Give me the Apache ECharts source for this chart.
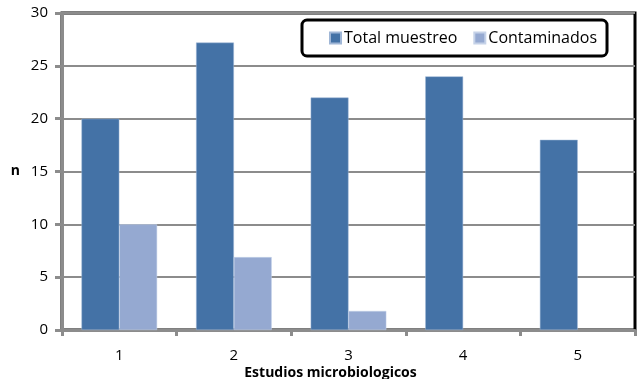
<!DOCTYPE html>
<html>
<head>
<meta charset="utf-8">
<script src="https://cdn.jsdelivr.net/npm/echarts@6/dist/echarts.min.js"></script>
<style>html,body{margin:0;padding:0;background:#fff}#c{width:639px;height:379px}</style>
</head>
<body>
<div id="c"></div>
<script>
const categories = ['1', '2', '3', '4', '5'];
const totalMuestreo = [20, 27.2, 22, 24, 18];
const contaminados = [10, 6.9, 1.8, null, null];
const seriesNames = ['Total muestreo', 'Contaminados'];
const yTicks = { min: 0, max: 30, interval: 5 };

const chart = echarts.init(document.getElementById('c'));
const font = '"Open Sans", sans-serif';
chart.setOption({
  animation: false,
  grid: { left: 62, right: 4, top: 13, bottom: 49, containLabel: false, outerBoundsMode: 'none',
          show: true, borderColor: '#000', borderWidth: 3, backgroundColor: 'transparent' },
  legend: {
    left: 302, top: 20,
    padding: [10, 10, 10, 27],
    borderColor: '#000', borderWidth: 3, borderRadius: 5,
    itemWidth: 11, itemHeight: 11, itemGap: 16, icon: 'rect',
    textStyle: { fontFamily: font, fontSize: 16, color: '#000', padding: [0, 0, 0, -2] },
    data: seriesNames
  },
  xAxis: {
    type: 'category', data: categories,
    name: 'Estudios microbiologicos', nameLocation: 'middle', nameGap: 36, nameMoveOverlap: false,
    nameTextStyle: { fontFamily: font, fontSize: 14, fontWeight: 'bold', color: '#000', padding: [0, 36, 0, 0] },
    axisLine: { lineStyle: { color: '#8c8c8c', width: 3 } },
    axisTick: { show: true, length: 6, lineStyle: { color: '#8c8c8c', width: 3 } },
    axisLabel: { fontFamily: font, fontSize: 15, color: '#000', margin: 18 }
  },
  yAxis: {
    type: 'value', min: yTicks.min, max: yTicks.max, interval: yTicks.interval,
    name: 'n', nameLocation: 'middle', nameGap: 42, nameRotate: 0, nameMoveOverlap: false,
    nameTextStyle: { fontFamily: font, fontSize: 14, fontWeight: 'bold', color: '#000', padding: [14, 0, 0, 0] },
    axisLine: { show: true, lineStyle: { color: '#8c8c8c', width: 3 } },
    axisTick: { show: true, length: 7, lineStyle: { color: '#8c8c8c', width: 3 } },
    axisLabel: { fontFamily: font, fontSize: 15, color: '#000', margin: 14 },
    splitLine: { lineStyle: { color: '#8c8c8c', width: 2 } }
  },
  series: [
    { name: seriesNames[0], type: 'bar', data: totalMuestreo, barGap: '0%', barCategoryGap: '34%',
      itemStyle: { color: '#4472a6', borderColor: '#9fb6d6', borderWidth: 0.5 } },
    { name: seriesNames[1], type: 'bar', data: contaminados,
      itemStyle: { color: '#95a9d1', borderColor: '#c5d2e8', borderWidth: 0.5 } }
  ]
});
</script>
</body>
</html>
